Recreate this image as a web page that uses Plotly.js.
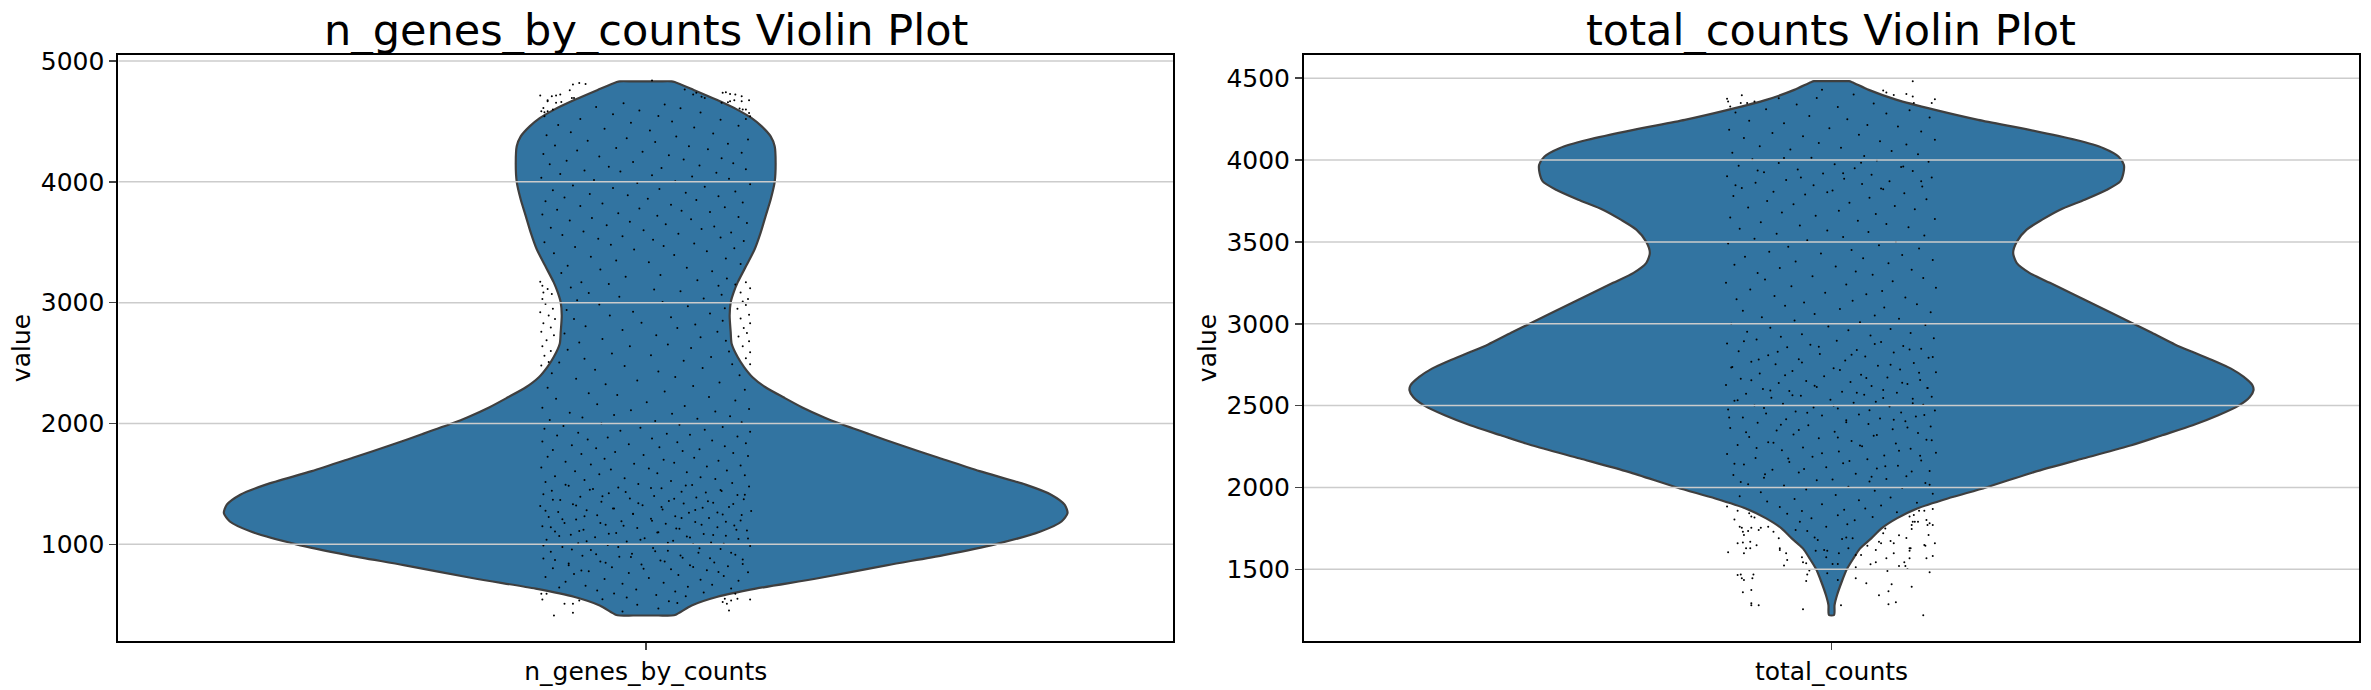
<!DOCTYPE html>
<html><head><meta charset="utf-8"><script src="https://cdn.plot.ly/plotly-3.0.1.min.js"></script>
<style>html,body{margin:0;padding:0;background:#fff}</style></head><body><div id="c" style="width:2371px;height:690px"></div>
<script>
const genesValues=[4832,4832,4826,4761,4679,4596,4527,4459,4376,4294,4157,4000,3854,3717,3580,3442,3305,3168,3085,3003,2893,2756,2660,2550,2467,2383,2300,2217,2133,2050,2000,1911,1828,1717,1606,1494,1411,1328,1258,1189,1106,1000,911,828,717,633,564,494,418,411,411];
const genesWidths=[.012,.0245,.0275,.0455,.0673,.0872,.1005,.110,.1185,.1223,.1232,.1223,.1185,.1137,.109,.1033,.0953,.0872,.0834,.0806,.0796,.0806,.0815,.0872,.0933,.1013,.1136,.1306,.1485,.1693,.1839,.2123,.2393,.2777,.3166,.3602,.3844,.3972,.400,.3943,.3744,.3313,.2825,.2294,.1621,.1043,.0673,.0436,.0285,.0245,.012];
const countsValues=[4482,4482,4476,4429,4368,4307,4246,4185,4124,4073,4022,3972,3921,3870,3819,3758,3697,3636,3575,3500,3433,3372,3311,3250,3189,3128,3067,3006,2945,2874,2827,2776,2726,2675,2624,2594,2553,2500,2441,2380,2319,2258,2177,2095,2000,1933,1872,1811,1750,1689,1628,1567,1500,1424,1343,1282,1221];
const countsWidths=[.008,.0165,.0195,.0353,.0619,.0982,.139,.1876,.231,.2578,.272,.2771,.2767,.2737,.2611,.24,.2167,.1997,.185,.1755,.1722,.1755,.1876,.207,.2263,.2457,.2651,.2843,.3037,.3254,.3424,.3618,.3787,.3908,.399,.4,.3965,.3859,.3666,.3424,.3134,.2843,.2384,.1925,.1465,.1102,.0813,.0619,.0474,.0377,.0271,.0208,.0145,.0097,.0053,.0029,.0024];
// Sparse outliers: read one by one from zoomed crops of the reference.
const genesDotX=[-.100,-.093,-.089,-.085,-.081,-.069,-.072,-.063,-.057,-.070,-.068,-.080,-.097,-.093,-.099,-.096,-.093,-.096,-.085,-.088,.006,.073,.076,.080,.085,.091,.078,.080,.084,.091,.098,.072,.089,.092,.095,.098,.099,.095,.056,.048,.037,.045,.053,
-.100,-.098,-.093,-.097,-.089,-.098,-.095,-.088,-.100,-.092,-.086,-.097,-.090,-.099,-.087,-.094,-.098,-.090,-.096,-.092,-.099,.085,.095,.099,.090,.097,.092,.095,.087,.098,.090,.099,.093,.096,.088,.098,.092,.099,.095,.099,
-.099,-.098,-.094,-.087,-.077,-.069,-.069,-.063,.073,.077,.079,.081,.087,.099,.075,.085];
const genesDotY=[4715,4668,4709,4715,4723,4806,4759,4819,4811,4695,4695,4662,4612,4676,4585,4577,4585,4544,4654,4599,4839,4737,4742,4728,4723,4709,4659,4668,4676,4668,4676,4654,4607,4599,4599,4571,4544,4521,4695,4737,4764,4723,4704,
3173,3140,3113,3085,3071,3030,2990,2950,2920,2895,2865,2830,2795,2760,2730,2690,2640,2600,2560,2510,2480,3150,3170,3120,3085,3030,3010,2980,2950,2900,2870,2830,2790,2750,2720,2680,2640,2590,2540,2490,
592,544,592,411,508,508,433,536,522,508,453,536,550,544,550,592];
const countsDotX=[-.099,-.098,-.096,-.085,-.086,-.080,-.073,-.050,-.009,.049,.052,.059,.071,.077,.077,.098,.095,.078,
-.098,-.092,-.099,-.089,-.087,-.085,-.084,-.083,-.079,-.076,-.069,-.067,-.078,-.076,-.073,-.060,-.055,-.089,-.084,-.077,-.081,-.077,-.071,-.083,-.050,-.049,-.049,-.043,-.042,-.045,-.028,-.027,-.024,-.089,-.086,-.085,-.083,-.074,-.075,-.076,-.084,-.076,-.076,-.069,-.027,-.021,-.023,-.024,.009,.023,.033,.023,.028,.034,.037,.042,.042,.045,.047,.052,.053,.054,.057,.045,.054,.061,.056,.059,.064,.071,.059,.064,.069,.070,.072,.074,.075,.074,.074,.076,.087,.093,.090,.096,.088,.089,.098,.092,.091,.090,.093,.096,.077,.079,.076,.076,.082,.074,.078,.083,.088,.096,.051,.049,
-.004,-.007,-.005,-.016,-.013,-.034,-.023,-.015,.001,.006,-.004,.006,.010,.020,.016,.007,.023,.014];
const countsDotY=[4374,4358,4327,4396,4348,4348,4358,4378,4429,4425,4413,4398,4403,4482,4388,4372,4348,4348,
1604,1805,1883,1858,1760,1754,1730,1710,1734,1754,1740,1754,1842,1822,1817,1760,1730,1659,1663,1669,1628,1628,1647,1598,1689,1628,1618,1598,1557,1524,1573,1543,1537,1465,1469,1445,1435,1469,1445,1374,1360,1292,1280,1280,1256,1492,1469,1429,1280,1445,1415,1512,1588,1644,1531,1543,1618,1669,1659,1567,1490,1366,1408,1341,1286,1299,1673,1659,1708,1691,1598,1520,1543,1520,1502,1628,1628,1614,1567,1394,1219,1482,1567,1581,1649,1644,1659,1710,1771,1801,1781,1771,1791,1791,1771,1746,1791,1822,1832,1858,1858,1868,1750,1720,
1614,1618,1573,1695,1679,1740,1734,1614,1533,1533,1476,1435,1685,1689,1628,1598,1588,1695];
// Dense clouds: the reference has thousands of overlapping dots that cannot be read
// individually. These are a much thinner set of x,value pairs estimated by eye,
// following the dot density seen in each band of the picture.
const genesBodyDots=[
-.021,4650,.018,4640,-.047,4620,.033,4610,-.006,4590,.052,4575,-.031,4560,.012,4545,-.062,4520,.071,4515,.025,4500,-.014,4490,-.083,4470,.088,4465,.046,4450,-.039,4440,.004,4425,-.071,4410,.064,4400,-.094,4385,.029,4375,-.018,4360,.097,4350,-.055,4340,.009,4330,.078,4315,-.086,4300,.041,4295,-.028,4280,.059,4270,-.065,4260,-.003,4250,.091,4240,-.097,4230,.022,4220,-.044,4210,.072,4195,.036,4185,-.075,4175,-.012,4165,.083,4155,-.091,4145,.051,4135,-.035,4125,.015,4115,.095,4105,-.058,4095,-.024,4085,.067,4075,-.081,4065,.006,4055,.044,4045,-.099,4035,.079,4025,-.049,4015,.028,4005,-.008,3990,.099,3980,-.069,3970,.056,3960,-.031,3950,.013,3940,-.088,3930,.085,3920,.038,3910,-.053,3900,-.017,3890,.069,3880,-.077,3870,.002,3860,.048,3850,-.095,3840,.092,3830,-.041,3820,.024,3810,-.062,3800,.075,3790,-.006,3780,-.084,3770,.034,3760,.061,3750,-.026,3740,-.098,3730,.011,3720,.088,3710,-.051,3700,.043,3690,-.072,3680,-.015,3670,.096,3660,.019,3650,-.037,3640,.065,3630,-.09,3620,.053,3610,-.002,3600,-.059,3590,.081,3580,.031,3570,-.079,3560,-.022,3550,.071,3540,-.045,3530,.007,3520,.093,3510,-.096,3500,.046,3490,-.033,3480,.017,3470,-.067,3460,.084,3450,-.011,3440,.058,3425,-.087,3410,.027,3395,-.052,3380,.076,3365,-.028,3350,.003,3335,.09,3320,-.074,3305,.039,3290,-.043,3275,.063,3260,-.08,3245,.014,3230,-.019,3215,.077,3200,.049,3185,-.061,3170,-.035,3155,.069,3140,-.071,3125,.008,3110,.033,3095,-.054,3080,.072,3065,-.025,3050,.055,3035,-.065,3020,.016,3005,-.044,2985,.04,2970,.075,2955,-.075,2940,-.012,2925,.061,2910,-.034,2895,.024,2880,-.068,2865,.073,2850,-.004,2835,.047,2820,-.057,2805,.03,2790,-.022,2775,.068,2760,-.077,2745,.01,2730,.052,2715,-.041,2700,.076,2685,-.063,2670,.021,2655,-.015,2640,.043,2625,-.074,2610,.079,2595,-.032,2580,.005,2565,.062,2550,-.058,2535,.036,2520,-.082,2505,.082,2490,-.02,2475,.054,2460,-.048,2445,.012,2430,-.089,2415,.089,2400,.028,2385,-.066,2370,-.008,2355,.07,2340,-.038,2325,.045,2310,-.093,2295,.094,2280,.018,2265,-.054,2250,-.027,2235,.06,2220,-.085,2205,.085,2190,.001,2175,-.046,2160,.037,2145,-.098,2130,.098,2120,-.014,2110,.066,2100,-.072,2090,.025,2080,-.03,2070,.08,2060,-.06,2050,.049,2040,-.091,2030,.009,2020,.091,2010,-.042,2000,.032,1990,-.078,1980,.073,1972,-.005,1964,-.096,1956,.056,1948,-.024,1940,.099,1932,-.064,1924,.02,1916,.042,1908,-.084,1900,.087,1892,-.036,1884,.006,1876,-.055,1868,.063,1860,-.098,1852,.03,1844,.095,1836,-.016,1828,-.07,1820,.075,1812,.013,1804,-.047,1796,.051,1788,-.088,1780,.035,1772,-.029,1764,.083,1756,-.061,1748,-.002,1740,.097,1732,-.093,1724,.046,1716,-.039,1708,.017,1700,.069,1692,-.076,1684,.027,1676,-.011,1668,-.052,1660,.09,1652,.058,1644,-.099,1636,.003,1628,-.033,1620,.077,1612,-.067,1604,.039,1596,.011,1588,-.044,1580,.094,1572,-.086,1564,.052,1556,-.02,1548,.066,1540,-.058,1532,.024,1524,-.095,1516,.082,1508,-.007,1500,.044,1492,-.073,1485,.098,1478,-.026,1471,.015,1464,-.05,1457,.071,1450,-.089,1443,.034,1436,.057,1429,-.035,1422,-.097,1415,.087,1408,.008,1401,-.062,1394,.048,1387,-.015,1380,.093,1373,-.081,1366,.022,1359,-.042,1352,.064,1345,.036,1338,-.069,1331,-.003,1324,-.1,1317,.079,1310,.054,1303,-.031,1296,.016,1289,-.056,1282,.1,1275,-.083,1268,.041,1261,-.012,1254,.073,1247,-.046,1240,.028,1233,-.092,1226,.06,1219,.005,1212,-.066,1205,.09,1198,-.023,1191,.047,1184,-.077,1177,.019,1170,-.038,1163,.084,1156,-.098,1149,.068,1142,-.008,1135,.032,1128,-.059,1121,.096,1114,-.086,1107,.012,1100,-.028,1093,.055,1086,-.071,1079,.076,1072,.039,1065,-.048,1058,-.001,1051,.088,1044,-.094,1037,.026,1030,-.018,1023,.062,1016,-.064,1009,.045,1002,-.036,994,.099,986,-.079,978,.007,970,.071,962,-.052,954,.021,946,-.09,938,.05,930,-.013,922,.085,914,-.06,906,-.025,898,.035,890,-.097,882,.092,874,.014,866,-.043,858,.065,850,-.073,842,-.004,834,.042,826,.078,818,-.032,810,-.088,802,.024,794,.058,786,-.054,778,.097,770,-.016,762,-.068,754,.031,746,.074,738,-.095,730,.003,722,-.039,714,.052,706,.088,698,-.076,690,.017,682,-.022,674,.063,666,-.057,658,.04,650,-.082,642,.081,634,-.009,626,-.046,618,.028,610,.055,602,-.03,594,.01,580,.038,570,-.018,560,-.041,545,.022,530,.03,515,-.008,500,.012,470,-.022,445,
-.076,1493,.038,1487,.005,1467,-.053,1452,.072,1441,-.019,1433,.094,1411,-.041,1398,.027,1377,-.088,1369,.059,1356,-.007,1341,.083,1333,-.066,1322,.015,1309,-.03,1297,.047,1284,-.095,1278,.068,1263,-.012,1251,.091,1243,-.058,1232,.034,1218,-.079,1207,.006,1196,.076,1188,-.043,1176,.053,1163,-.021,1153,-.09,1141,.029,1132,.086,1121,-.063,1111,.011,1099,-.035,1088,.064,1077,-.082,1068,.042,1056,.097,1049,-.005,1037,-.056,1026,.021,1013,.074,1004,-.097,991,-.026,979,.051,968,-.07,957,.009,943,.081,931,-.047,919,.033,907,-.014,896,.061,884,-.086,871,.018,859,-.038,847,.092,838,-.073,826,.045,812,-.002,797,-.061,783,.069,771];
const countsBodyDots=[
.021,4400,-.014,4380,.04,4345,-.033,4340,.006,4325,-.062,4310,.074,4305,-.091,4290,.052,4285,-.021,4270,.093,4260,.015,4250,-.078,4240,-.045,4225,.034,4215,.063,4205,-.002,4195,-.097,4185,.085,4175,-.056,4165,.026,4155,-.027,4145,-.083,4135,.098,4125,.046,4115,-.012,4105,.071,4095,-.068,4085,.009,4075,-.039,4065,.057,4055,-.094,4045,.082,4035,.031,4025,-.019,4015,-.075,4005,.043,3998,.092,3990,-.05,3982,.003,3974,-.088,3966,.066,3958,.022,3950,-.032,3942,.077,3934,-.064,3926,-.008,3918,.038,3910,-.099,3902,.095,3894,.012,3886,-.043,3878,.055,3870,-.072,3862,.029,3854,-.017,3846,.086,3838,-.085,3830,.049,3822,.001,3814,-.055,3806,.069,3798,-.025,3790,-.093,3780,.036,3770,.09,3760,-.061,3750,.017,3740,-.036,3730,.06,3720,-.079,3710,.079,3700,.007,3690,-.047,3680,.042,3670,-.015,3660,-.096,3650,.098,3640,.025,3630,-.067,3620,.052,3610,-.03,3600,.073,3590,-.087,3580,-.004,3570,.035,3560,-.052,3550,.088,3540,.011,3530,-.073,3520,-.023,3510,.061,3500,-.098,3490,.045,3480,-.041,3470,.083,3460,.019,3450,-.059,3440,-.01,3430,.067,3420,-.082,3410,.03,3400,.096,3390,-.034,3380,.054,3370,-.092,3360,.004,3350,-.049,3340,.076,3330,.023,3320,-.07,3310,.039,3300,-.018,3290,.087,3280,-.063,3270,.058,3260,-.1,3250,.014,3240,-.038,3230,.099,3220,-.077,3210,.048,3200,-.006,3190,.033,3180,-.054,3170,.07,3160,-.09,3150,.02,3140,-.026,3130,.081,3120,-.044,3110,.05,3100,.008,3090,-.084,3080,.094,3070,-.016,3060,.041,3050,-.066,3040,.064,3030,-.035,3020,.027,3010,-.095,3000,.089,2992,-.003,2984,-.058,2976,.056,2968,.016,2960,-.08,2952,.075,2944,-.028,2936,.037,2928,-.048,2920,.097,2912,-.071,2904,.005,2896,.047,2888,-.099,2880,-.02,2872,.068,2864,-.042,2856,.085,2848,.024,2840,-.088,2832,.059,2824,-.011,2816,-.06,2808,.032,2800,.092,2792,-.031,2784,.013,2776,-.076,2768,.078,2760,-.053,2752,.044,2744,-.094,2736,.002,2728,.065,2720,-.037,2712,.099,2704,-.068,2696,.028,2688,-.007,2680,.053,2672,-.086,2664,.084,2656,-.024,2650,.018,2644,-.05,2638,.072,2632,-.1,2626,.038,2620,-.014,2614,.091,2608,-.065,2602,.049,2596,-.04,2590,.01,2584,.062,2578,-.081,2572,.031,2566,-.029,2560,.095,2554,-.057,2548,.077,2542,-.001,2536,-.092,2530,.042,2524,.021,2518,-.046,2512,.087,2506,-.073,2500,.055,2494,-.017,2488,.006,2482,-.098,2476,.098,2470,-.034,2464,.066,2458,-.062,2452,.026,2446,-.009,2440,.08,2434,-.084,2428,.046,2422,-.043,2416,.014,2410,.07,2404,-.07,2396,.035,2388,-.022,2380,.094,2372,-.096,2364,.058,2356,-.052,2348,.003,2340,.082,2332,-.036,2324,.04,2316,-.078,2308,-.012,2300,.09,2292,.019,2284,-.06,2276,.061,2268,-.089,2260,.029,2252,-.027,2244,.075,2236,-.047,2228,.007,2220,.099,2212,-.099,2204,.05,2196,-.018,2188,-.072,2180,.034,2172,.085,2164,-.04,2156,.011,2148,-.083,2140,.063,2132,-.005,2124,.043,2116,-.056,2108,.093,2100,-.031,2092,.023,2084,-.093,2076,.071,2068,-.064,2060,.052,2052,-.014,2044,.036,2036,.089,2028,-.079,2020,-.045,2012,.016,2004,.067,1996,-.024,1988,.041,1980,-.067,1970,.096,1962,.004,1954,-.087,1946,.056,1938,-.035,1930,.026,1922,-.061,1914,.081,1906,-.009,1898,.047,1890,-.049,1880,.032,1872,.012,1864,-.028,1856,.062,1848,-.042,1840,.006,1830,.039,1820,-.019,1812,.022,1800,-.03,1790,.015,1775,-.005,1760,
-.083,2893,.041,2877,-.012,2859,.074,2843,-.051,2829,.019,2811,.096,2797,-.069,2781,-.028,2763,.056,2749,-.095,2733,.008,2717,.083,2701,-.044,2685,.033,2669,-.076,2655,.067,2639,-.016,2621,.091,2607,-.058,2593,.024,2579,-.037,2563,.049,2547,-.089,2533,.077,2515,.002,2499,-.064,2485,.036,2471,-.023,2457,.088,2443,-.097,2427,.059,2413,.014,2399,-.048,2383,.072,2367,-.031,2351,-.081,2337,.043,2321,.006,2305,.095,2289,-.055,2273,.027,2257,-.071,2241,.064,2225,-.009,2209,.084,2193,-.041,2177,.017,2161,-.092,2145,.051,2129,-.026,2113,.076,2097,-.063,2081,.038,2065,.001,2049,-.086,2033,.093,2017,-.045,4012,.028,3983,.068,3961,-.07,3937,.011,3919,-.029,3893,.085,3871,-.091,3847,.047,3827,-.004,3803];
const genesTicks=[1000,2000,3000,4000,5000];
const countsTicks=[1500,2000,2500,3000,3500,4000,4500];
function unpair(flat,axis){const out=[];for(let i=axis;i<flat.length;i+=2)out.push(flat[i]);return out;}
function outline(vals,w){return {x:w.map(d=>-d).concat(w.slice().reverse()).concat([-w[0]]),y:vals.concat(vals.slice().reverse()).concat([vals[0]])};}
function grid(t){const x=[],y=[];t.forEach(v=>{x.push(-.5,.5,null);y.push(v,v,null)});return {x,y};}
function panel(vals,w,dx,dy,ticks,xa,ya){
 const o=outline(vals,w),g=grid(ticks);
 return [
 {type:'scatter',mode:'lines',x:o.x,y:o.y,fill:'toself',fillcolor:'#3274a1',line:{color:'#3f3f3f',width:2.2,shape:'spline',smoothing:.7},xaxis:xa,yaxis:ya,hoverinfo:'skip'},
 {type:'scatter',mode:'markers',x:dx,y:dy,marker:{color:'#000',size:2},xaxis:xa,yaxis:ya,hoverinfo:'skip'},
 {type:'scatter',mode:'lines',x:g.x,y:g.y,line:{color:'#cccccc',width:1.5},xaxis:xa,yaxis:ya,hoverinfo:'skip'}];
}
const W=2371,H=690;
const fnt={family:'DejaVu Sans',color:'#000',size:25};
function xa(d,label){return {domain:d,range:[-.5,.5],tickmode:'array',tickvals:[0],ticktext:[label],ticks:'outside',ticklen:7,tickwidth:1.6,showline:true,mirror:true,linecolor:'#000',linewidth:2,showgrid:false,zeroline:false,tickfont:fnt};}
function ya(r,t,anchor,sd){return {domain:[49/H,635/H],range:r,tickmode:'array',tickvals:t,ticktext:t.map(String),ticks:'outside',ticklen:7,tickwidth:1.6,showline:true,mirror:true,linecolor:'#000',linewidth:2,showgrid:false,zeroline:false,tickfont:fnt,title:{text:'value',font:fnt,standoff:sd},anchor:anchor};}
const layout={width:W,height:H,margin:{l:0,r:0,t:0,b:0},paper_bgcolor:'#fff',plot_bgcolor:'#fff',showlegend:false,font:fnt,
 xaxis:xa([118.4/W,1173/W],'n_genes_by_counts'),yaxis:ya([200,5050],genesTicks,'x',3),
 xaxis2:Object.assign(xa([1304/W,2359/W],'total_counts'),{anchor:'y2'}),yaxis2:ya([1062,4642],countsTicks,'x2',3),
 annotations:[
 {text:'n_genes_by_counts Violin Plot',xref:'paper',yref:'paper',x:645.7/W,y:(690-30)/H,xanchor:'center',yanchor:'middle',showarrow:false,font:{family:'DejaVu Sans',size:43,color:'#000'}},
 {text:'total_counts Violin Plot',xref:'paper',yref:'paper',x:1831.5/W,y:(690-30)/H,xanchor:'center',yanchor:'middle',showarrow:false,font:{family:'DejaVu Sans',size:43,color:'#000'}}]};
layout.xaxis.anchor='y';
const data=panel(genesValues,genesWidths,genesDotX.concat(unpair(genesBodyDots,0)),genesDotY.concat(unpair(genesBodyDots,1)),genesTicks,'x','y')
 .concat(panel(countsValues,countsWidths,countsDotX.concat(unpair(countsBodyDots,0)),countsDotY.concat(unpair(countsBodyDots,1)),countsTicks,'x2','y2'));
Plotly.newPlot('c',data,layout,{staticPlot:true,displayModeBar:false});
</script></body></html>
